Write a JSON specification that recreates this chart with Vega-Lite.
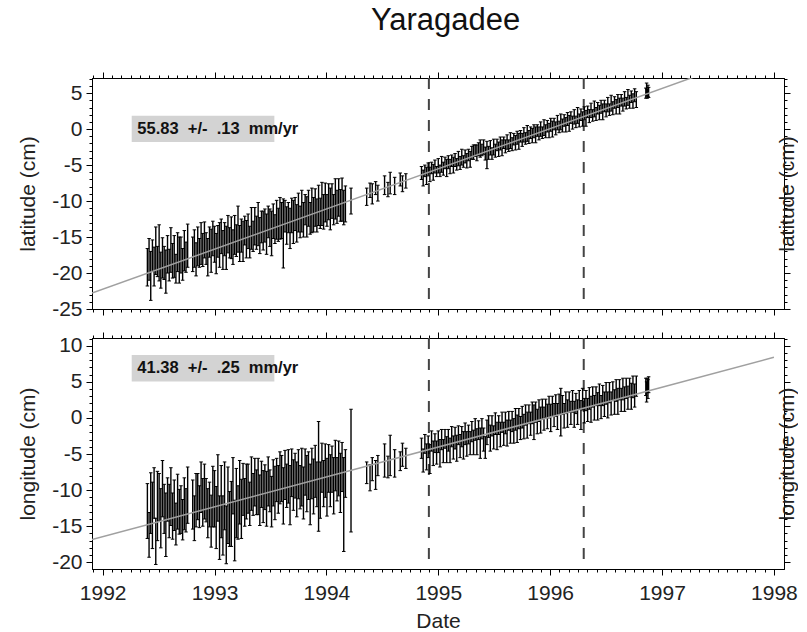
{
  "$schema": "https://vega.github.io/schema/vega-lite/v6.json",
  "padding": {"left": 17, "top": 5, "right": 0, "bottom": 0},
  "title": {"text": "Yaragadee", "fontSize": 31, "font": "Liberation Sans", "fontWeight": "normal", "color": "#111", "anchor": "middle", "offset": 32, "dx": 38, "dy": 2},
  "spacing": 29,
  "bounds": "flush",
  "datasets": {
    "vlines": [{"d": 1994.916}, {"d": 1996.30}],
    "fit": [{"t": 1991.905, "a": -22.8, "o": -16.85}, {"t": 1998.0, "a": 11.23, "o": 8.39}],
    "boxLat": [{"x1": 1992.26, "x2": 1993.535, "y1": -1.8, "y2": 1.85, "tx": 1992.31, "ty": 0.0, "label": "55.83\u00a0\u00a0+/-\u00a0\u00a0.13\u00a0\u00a0mm/yr"}],
    "boxLon": [{"x1": 1992.26, "x2": 1993.535, "y1": 5.06, "y2": 8.7, "tx": 1992.31, "ty": 6.85, "label": "41.38\u00a0\u00a0+/-\u00a0\u00a0.25\u00a0\u00a0mm/yr"}],
    "obs": [
      {"t":1992.4,"a":-19.2,"ae":2.6,"o":-12.9,"oe":3.8},
      {"t":1992.415,"a":-18.1,"ae":2.9,"o":-16.2,"oe":3.1},
      {"t":1992.43,"a":-20.4,"ae":3.4,"o":-11.8,"oe":4.2},
      {"t":1992.445,"a":-17.6,"ae":2.2,"o":-13.5,"oe":4.6},
      {"t":1992.46,"a":-19.1,"ae":2.7,"o":-10.4,"oe":3.5},
      {"t":1992.475,"a":-16.9,"ae":3.3,"o":-17.1,"oe":3.2},
      {"t":1992.49,"a":-18.4,"ae":2.1,"o":-12.2,"oe":4.8},
      {"t":1992.505,"a":-17.2,"ae":3.9,"o":-11.0,"oe":3.3},
      {"t":1992.52,"a":-19.6,"ae":2.5,"o":-13.9,"oe":4.1},
      {"t":1992.535,"a":-17.9,"ae":2.8,"o":-9.8,"oe":3.9},
      {"t":1992.55,"a":-18.6,"ae":2.3,"o":-12.6,"oe":3.4},
      {"t":1992.565,"a":-19.8,"ae":3.0,"o":-14.8,"oe":4.4},
      {"t":1992.58,"a":-17.4,"ae":2.6,"o":-11.3,"oe":3.0},
      {"t":1992.595,"a":-18.9,"ae":2.2,"o":-12.9,"oe":3.7},
      {"t":1992.61,"a":-16.8,"ae":3.1,"o":-10.9,"oe":4.0},
      {"t":1992.625,"a":-18.3,"ae":2.4,"o":-13.6,"oe":3.2},
      {"t":1992.64,"a":-17.7,"ae":2.9,"o":-12.1,"oe":3.5},
      {"t":1992.655,"a":-19.4,"ae":2.0,"o":-14.7,"oe":2.9},
      {"t":1992.67,"a":-17.1,"ae":2.7,"o":-11.6,"oe":3.8},
      {"t":1992.685,"a":-18.2,"ae":3.2,"o":-13.0,"oe":3.1},
      {"t":1992.7,"a":-17.5,"ae":2.5,"o":-12.7,"oe":3.3},
      {"t":1992.715,"a":-18.8,"ae":2.2,"o":-14.1,"oe":2.8},
      {"t":1992.73,"a":-16.9,"ae":2.8,"o":-11.9,"oe":3.6},
      {"t":1992.745,"a":-17.8,"ae":2.1,"o":-12.8,"oe":3.0},
      {"t":1992.76,"a":-16.2,"ae":3.0,"o":-10.7,"oe":3.9},
      {"t":1992.805,"a":-17.4,"ae":2.4,"o":-12.0,"oe":3.4},
      {"t":1992.82,"a":-16.6,"ae":2.6,"o":-13.9,"oe":3.1},
      {"t":1992.835,"a":-18.1,"ae":2.3,"o":-11.4,"oe":3.7},
      {"t":1992.85,"a":-16.3,"ae":2.7,"o":-10.9,"oe":3.2},
      {"t":1992.865,"a":-17.2,"ae":2.0,"o":-12.3,"oe":2.9},
      {"t":1992.88,"a":-15.9,"ae":2.9,"o":-9.6,"oe":3.5},
      {"t":1992.895,"a":-16.8,"ae":2.3,"o":-11.7,"oe":3.3},
      {"t":1992.91,"a":-15.4,"ae":2.5,"o":-10.2,"oe":3.8},
      {"t":1992.925,"a":-16.6,"ae":2.2,"o":-11.4,"oe":3.0},
      {"t":1992.94,"a":-17.8,"ae":2.6,"o":-13.2,"oe":3.4},
      {"t":1992.955,"a":-15.7,"ae":2.1,"o":-12.0,"oe":3.1},
      {"t":1992.97,"a":-16.9,"ae":3.0,"o":-14.3,"oe":3.6},
      {"t":1992.985,"a":-15.2,"ae":2.4,"o":-10.9,"oe":4.2},
      {"t":1993.0,"a":-16.0,"ae":2.5,"o":-11.2,"oe":3.9},
      {"t":1993.015,"a":-17.3,"ae":2.8,"o":-13.8,"oe":4.3},
      {"t":1993.03,"a":-15.6,"ae":2.2,"o":-9.7,"oe":4.6},
      {"t":1993.045,"a":-16.1,"ae":3.1,"o":-15.2,"oe":4.4},
      {"t":1993.06,"a":-14.9,"ae":2.4,"o":-11.6,"oe":5.0},
      {"t":1993.075,"a":-16.8,"ae":2.7,"o":-14.9,"oe":4.1},
      {"t":1993.09,"a":-15.3,"ae":2.3,"o":-10.8,"oe":4.7},
      {"t":1993.105,"a":-16.5,"ae":3.0,"o":-16.2,"oe":4.0},
      {"t":1993.12,"a":-14.6,"ae":2.6,"o":-12.1,"oe":5.3},
      {"t":1993.135,"a":-15.8,"ae":2.1,"o":-14.0,"oe":3.8},
      {"t":1993.15,"a":-15.1,"ae":2.9,"o":-13.3,"oe":4.5},
      {"t":1993.165,"a":-16.4,"ae":2.4,"o":-9.4,"oe":3.9},
      {"t":1993.18,"a":-14.7,"ae":2.7,"o":-15.6,"oe":4.2},
      {"t":1993.195,"a":-15.5,"ae":2.2,"o":-11.8,"oe":4.8},
      {"t":1993.21,"a":-13.9,"ae":3.2,"o":-13.1,"oe":3.7},
      {"t":1993.225,"a":-15.9,"ae":2.5,"o":-10.3,"oe":4.4},
      {"t":1993.24,"a":-14.8,"ae":2.3,"o":-12.6,"oe":4.1},
      {"t":1993.255,"a":-15.6,"ae":2.8,"o":-9.9,"oe":3.6},
      {"t":1993.27,"a":-14.1,"ae":2.0,"o":-11.7,"oe":3.3},
      {"t":1993.285,"a":-15.3,"ae":2.6,"o":-10.2,"oe":3.8},
      {"t":1993.3,"a":-14.2,"ae":2.4,"o":-9.8,"oe":3.4},
      {"t":1993.315,"a":-15.7,"ae":2.2,"o":-11.9,"oe":3.0},
      {"t":1993.33,"a":-13.8,"ae":2.9,"o":-9.1,"oe":3.7},
      {"t":1993.345,"a":-14.9,"ae":2.1,"o":-10.6,"oe":2.9},
      {"t":1993.36,"a":-13.5,"ae":2.6,"o":-8.9,"oe":3.3},
      {"t":1993.375,"a":-14.4,"ae":2.3,"o":-10.3,"oe":3.1},
      {"t":1993.39,"a":-13.2,"ae":3.0,"o":-9.5,"oe":3.9},
      {"t":1993.405,"a":-14.8,"ae":2.5,"o":-11.4,"oe":3.5},
      {"t":1993.42,"a":-13.6,"ae":2.2,"o":-9.2,"oe":3.2},
      {"t":1993.435,"a":-14.1,"ae":2.7,"o":-10.9,"oe":3.6},
      {"t":1993.45,"a":-13.4,"ae":2.3,"o":-9.6,"oe":3.1},
      {"t":1993.465,"a":-14.6,"ae":2.8,"o":-11.2,"oe":3.8},
      {"t":1993.48,"a":-12.9,"ae":2.2,"o":-8.8,"oe":3.4},
      {"t":1993.495,"a":-13.7,"ae":2.6,"o":-10.1,"oe":2.9},
      {"t":1993.51,"a":-14.5,"ae":3.1,"o":-11.6,"oe":3.5},
      {"t":1993.525,"a":-12.8,"ae":2.4,"o":-9.0,"oe":3.2},
      {"t":1993.54,"a":-13.9,"ae":2.0,"o":-10.4,"oe":3.7},
      {"t":1993.555,"a":-12.6,"ae":2.7,"o":-8.6,"oe":3.0},
      {"t":1993.57,"a":-13.3,"ae":2.3,"o":-9.9,"oe":3.3},
      {"t":1993.585,"a":-12.4,"ae":2.9,"o":-8.3,"oe":3.6},
      {"t":1993.6,"a":-12.7,"ae":2.5,"o":-8.4,"oe":3.2},
      {"t":1993.615,"a":-14.5,"ae":4.8,"o":-10.8,"oe":3.9},
      {"t":1993.63,"a":-12.1,"ae":2.2,"o":-7.9,"oe":3.4},
      {"t":1993.645,"a":-13.4,"ae":2.6,"o":-9.4,"oe":3.0},
      {"t":1993.66,"a":-12.3,"ae":2.1,"o":-8.1,"oe":3.7},
      {"t":1993.675,"a":-13.8,"ae":2.8,"o":-10.7,"oe":4.1},
      {"t":1993.69,"a":-12.0,"ae":2.4,"o":-7.6,"oe":3.3},
      {"t":1993.705,"a":-12.9,"ae":3.0,"o":-9.3,"oe":3.5},
      {"t":1993.72,"a":-11.8,"ae":2.3,"o":-8.0,"oe":3.1},
      {"t":1993.735,"a":-13.1,"ae":2.6,"o":-9.9,"oe":3.8},
      {"t":1993.75,"a":-11.6,"ae":2.7,"o":-7.8,"oe":3.4},
      {"t":1993.765,"a":-12.9,"ae":2.2,"o":-9.6,"oe":3.0},
      {"t":1993.78,"a":-11.4,"ae":2.9,"o":-8.2,"oe":4.0},
      {"t":1993.795,"a":-12.6,"ae":2.4,"o":-10.4,"oe":3.6},
      {"t":1993.81,"a":-11.2,"ae":2.1,"o":-7.5,"oe":3.2},
      {"t":1993.825,"a":-12.2,"ae":2.8,"o":-9.1,"oe":3.9},
      {"t":1993.84,"a":-11.0,"ae":2.5,"o":-8.0,"oe":3.3},
      {"t":1993.855,"a":-12.4,"ae":2.2,"o":-10.6,"oe":4.2},
      {"t":1993.87,"a":-11.3,"ae":3.1,"o":-7.7,"oe":3.5},
      {"t":1993.885,"a":-11.9,"ae":2.4,"o":-9.5,"oe":3.8},
      {"t":1993.9,"a":-10.9,"ae":2.6,"o":-7.4,"oe":3.6},
      {"t":1993.915,"a":-12.0,"ae":2.3,"o":-9.2,"oe":3.1},
      {"t":1993.93,"a":-10.6,"ae":2.8,"o":-8.1,"oe":7.6},
      {"t":1993.945,"a":-11.7,"ae":2.1,"o":-10.0,"oe":3.9},
      {"t":1993.96,"a":-10.4,"ae":3.0,"o":-6.9,"oe":3.4},
      {"t":1993.975,"a":-11.5,"ae":2.4,"o":-9.1,"oe":3.2},
      {"t":1993.99,"a":-10.2,"ae":2.7,"o":-7.3,"oe":3.7},
      {"t":1994.005,"a":-11.3,"ae":2.2,"o":-9.6,"oe":4.0},
      {"t":1994.02,"a":-10.1,"ae":2.5,"o":-7.0,"oe":3.3},
      {"t":1994.035,"a":-11.1,"ae":2.9,"o":-8.7,"oe":3.6},
      {"t":1994.05,"a":-10.0,"ae":2.4,"o":-7.1,"oe":3.2},
      {"t":1994.065,"a":-11.2,"ae":2.1,"o":-9.4,"oe":3.9},
      {"t":1994.08,"a":-9.7,"ae":2.8,"o":-6.6,"oe":3.5},
      {"t":1994.095,"a":-10.8,"ae":2.3,"o":-8.5,"oe":3.0},
      {"t":1994.11,"a":-9.5,"ae":2.6,"o":-7.0,"oe":3.8},
      {"t":1994.125,"a":-10.6,"ae":2.2,"o":-9.0,"oe":4.1},
      {"t":1994.14,"a":-9.8,"ae":3.0,"o":-6.8,"oe":3.4},
      {"t":1994.155,"a":-10.9,"ae":2.4,"o":-12.0,"oe":6.5},
      {"t":1994.17,"a":-10.4,"ae":2.5,"o":-7.7,"oe":3.3},
      {"t":1994.22,"a":-10.0,"ae":1.8,"o":-7.3,"oe":8.5},
      {"t":1994.36,"a":-9.4,"ae":1.2,"o":-7.6,"oe":1.5},
      {"t":1994.39,"a":-8.5,"ae":1.0,"o":-8.3,"oe":1.8},
      {"t":1994.41,"a":-9.0,"ae":1.4,"o":-7.1,"oe":1.6},
      {"t":1994.44,"a":-8.2,"ae":0.9,"o":-7.9,"oe":2.0},
      {"t":1994.46,"a":-8.9,"ae":1.1,"o":-6.6,"oe":1.4},
      {"t":1994.52,"a":-7.8,"ae":1.3,"o":-5.9,"oe":2.3},
      {"t":1994.55,"a":-8.4,"ae":1.0,"o":-6.8,"oe":1.5},
      {"t":1994.57,"a":-7.5,"ae":1.5,"o":-5.2,"oe":2.8},
      {"t":1994.61,"a":-7.9,"ae":1.2,"o":-6.3,"oe":1.9},
      {"t":1994.66,"a":-7.0,"ae":0.9,"o":-6.0,"oe":1.3},
      {"t":1994.68,"a":-7.6,"ae":1.1,"o":-5.1,"oe":1.6},
      {"t":1994.71,"a":-7.2,"ae":1.0,"o":-5.6,"oe":1.4},
      {"t":1994.85,"a":-6.1,"ae":0.9,"o":-4.2,"oe":1.4},
      {"t":1994.865,"a":-6.8,"ae":1.1,"o":-5.9,"oe":1.6},
      {"t":1994.88,"a":-5.8,"ae":0.8,"o":-3.6,"oe":1.3},
      {"t":1994.895,"a":-6.5,"ae":1.2,"o":-5.4,"oe":1.8},
      {"t":1994.91,"a":-5.6,"ae":0.9,"o":-4.0,"oe":1.5},
      {"t":1994.925,"a":-6.3,"ae":1.0,"o":-5.7,"oe":2.0},
      {"t":1994.94,"a":-5.4,"ae":0.8,"o":-3.2,"oe":1.4},
      {"t":1994.955,"a":-6.0,"ae":1.1,"o":-4.9,"oe":1.7},
      {"t":1994.97,"a":-5.2,"ae":0.9,"o":-3.5,"oe":1.3},
      {"t":1994.985,"a":-5.9,"ae":0.7,"o":-4.8,"oe":1.6},
      {"t":1995.0,"a":-5.1,"ae":1.0,"o":-3.3,"oe":1.5},
      {"t":1995.015,"a":-5.8,"ae":0.8,"o":-4.9,"oe":1.9},
      {"t":1995.03,"a":-4.9,"ae":1.1,"o":-3.0,"oe":1.4},
      {"t":1995.045,"a":-5.5,"ae":0.9,"o":-4.6,"oe":1.6},
      {"t":1995.06,"a":-4.7,"ae":0.8,"o":-2.9,"oe":1.3},
      {"t":1995.075,"a":-5.4,"ae":1.2,"o":-4.4,"oe":1.8},
      {"t":1995.09,"a":-4.6,"ae":0.9,"o":-3.1,"oe":1.5},
      {"t":1995.105,"a":-5.2,"ae":1.0,"o":-4.5,"oe":1.7},
      {"t":1995.12,"a":-4.4,"ae":0.8,"o":-2.6,"oe":1.4},
      {"t":1995.135,"a":-5.0,"ae":1.1,"o":-4.1,"oe":1.6},
      {"t":1995.15,"a":-4.3,"ae":0.9,"o":-2.8,"oe":1.5},
      {"t":1995.165,"a":-4.9,"ae":0.8,"o":-4.2,"oe":1.8},
      {"t":1995.18,"a":-4.1,"ae":1.0,"o":-2.4,"oe":1.3},
      {"t":1995.195,"a":-4.7,"ae":0.9,"o":-3.9,"oe":1.6},
      {"t":1995.21,"a":-3.9,"ae":1.1,"o":-2.6,"oe":1.4},
      {"t":1995.225,"a":-4.5,"ae":0.8,"o":-3.8,"oe":1.9},
      {"t":1995.24,"a":-3.8,"ae":0.9,"o":-2.2,"oe":1.5},
      {"t":1995.255,"a":-4.4,"ae":1.0,"o":-3.6,"oe":1.7},
      {"t":1995.27,"a":-3.6,"ae":0.8,"o":-2.3,"oe":1.3},
      {"t":1995.285,"a":-4.2,"ae":1.1,"o":-3.5,"oe":1.6},
      {"t":1995.3,"a":-3.3,"ae":0.9,"o":-1.9,"oe":1.4},
      {"t":1995.315,"a":-3.2,"ae":1.0,"o":-3.4,"oe":1.7},
      {"t":1995.33,"a":-3.0,"ae":0.8,"o":-1.6,"oe":1.5},
      {"t":1995.345,"a":-3.3,"ae":1.1,"o":-3.3,"oe":1.8},
      {"t":1995.36,"a":-2.8,"ae":0.9,"o":-1.7,"oe":1.3},
      {"t":1995.375,"a":-2.7,"ae":1.2,"o":-3.5,"oe":2.1},
      {"t":1995.39,"a":-2.9,"ae":0.8,"o":-1.5,"oe":1.4},
      {"t":1995.405,"a":-2.5,"ae":1.0,"o":-3.0,"oe":1.6},
      {"t":1995.42,"a":-3.4,"ae":0.9,"o":-4.1,"oe":1.5},
      {"t":1995.435,"a":-3.6,"ae":1.9,"o":-2.0,"oe":1.7},
      {"t":1995.45,"a":-3.3,"ae":0.9,"o":-1.2,"oe":1.5},
      {"t":1995.465,"a":-2.6,"ae":1.0,"o":-2.8,"oe":1.8},
      {"t":1995.48,"a":-3.4,"ae":0.8,"o":-1.1,"oe":1.4},
      {"t":1995.495,"a":-2.5,"ae":1.1,"o":-2.7,"oe":1.6},
      {"t":1995.51,"a":-3.0,"ae":0.9,"o":-0.8,"oe":1.5},
      {"t":1995.525,"a":-2.2,"ae":0.8,"o":-2.5,"oe":1.9},
      {"t":1995.54,"a":-2.8,"ae":1.0,"o":-1.0,"oe":1.3},
      {"t":1995.555,"a":-2.0,"ae":0.9,"o":-2.3,"oe":1.7},
      {"t":1995.57,"a":-2.6,"ae":1.1,"o":-0.6,"oe":1.4},
      {"t":1995.585,"a":-1.9,"ae":0.8,"o":-2.2,"oe":1.6},
      {"t":1995.6,"a":-2.4,"ae":0.9,"o":-0.7,"oe":1.5},
      {"t":1995.615,"a":-1.8,"ae":1.0,"o":-2.1,"oe":1.8},
      {"t":1995.63,"a":-2.3,"ae":0.8,"o":-0.4,"oe":1.3},
      {"t":1995.645,"a":-1.6,"ae":1.1,"o":-1.9,"oe":1.6},
      {"t":1995.66,"a":-2.1,"ae":0.9,"o":-0.5,"oe":1.4},
      {"t":1995.675,"a":-1.4,"ae":0.8,"o":-1.8,"oe":1.7},
      {"t":1995.69,"a":-1.9,"ae":1.0,"o":-0.2,"oe":1.5},
      {"t":1995.705,"a":-1.2,"ae":0.9,"o":-1.5,"oe":1.9},
      {"t":1995.72,"a":-1.7,"ae":1.1,"o":-0.1,"oe":1.4},
      {"t":1995.735,"a":-1.0,"ae":0.8,"o":-1.4,"oe":1.6},
      {"t":1995.75,"a":-1.5,"ae":0.9,"o":0.1,"oe":1.5},
      {"t":1995.765,"a":-0.8,"ae":1.0,"o":-1.2,"oe":1.7},
      {"t":1995.78,"a":-1.3,"ae":0.8,"o":0.4,"oe":1.4},
      {"t":1995.795,"a":-0.6,"ae":1.1,"o":-1.0,"oe":1.8},
      {"t":1995.81,"a":-1.1,"ae":0.9,"o":0.5,"oe":1.3},
      {"t":1995.825,"a":-0.5,"ae":0.8,"o":-0.8,"oe":1.6},
      {"t":1995.84,"a":-0.9,"ae":1.0,"o":0.7,"oe":1.5},
      {"t":1995.855,"a":-0.3,"ae":0.9,"o":-0.6,"oe":2.4},
      {"t":1995.87,"a":-0.8,"ae":1.1,"o":0.8,"oe":1.4},
      {"t":1995.885,"a":-0.2,"ae":0.8,"o":-0.5,"oe":1.7},
      {"t":1995.9,"a":-0.6,"ae":0.9,"o":1.0,"oe":1.5},
      {"t":1995.915,"a":0.0,"ae":1.0,"o":-0.3,"oe":1.8},
      {"t":1995.93,"a":-0.5,"ae":0.8,"o":1.2,"oe":1.4},
      {"t":1995.945,"a":0.2,"ae":1.1,"o":-0.1,"oe":1.6},
      {"t":1995.96,"a":-0.3,"ae":0.9,"o":1.3,"oe":1.3},
      {"t":1995.975,"a":0.4,"ae":0.8,"o":0.2,"oe":1.7},
      {"t":1995.99,"a":-0.2,"ae":1.0,"o":1.5,"oe":1.5},
      {"t":1996.005,"a":0.6,"ae":0.9,"o":0.0,"oe":1.9},
      {"t":1996.02,"a":0.0,"ae":1.1,"o":1.6,"oe":1.4},
      {"t":1996.035,"a":0.7,"ae":0.8,"o":0.4,"oe":1.6},
      {"t":1996.05,"a":0.1,"ae":0.9,"o":1.7,"oe":1.5},
      {"t":1996.065,"a":0.9,"ae":1.0,"o":0.2,"oe":1.8},
      {"t":1996.08,"a":0.3,"ae":0.8,"o":1.9,"oe":1.4},
      {"t":1996.095,"a":1.0,"ae":1.1,"o":0.8,"oe":3.3},
      {"t":1996.11,"a":0.5,"ae":0.9,"o":1.8,"oe":1.3},
      {"t":1996.125,"a":1.2,"ae":0.8,"o":0.3,"oe":1.7},
      {"t":1996.14,"a":0.6,"ae":1.0,"o":2.1,"oe":1.5},
      {"t":1996.155,"a":1.4,"ae":0.9,"o":0.6,"oe":1.9},
      {"t":1996.17,"a":0.8,"ae":1.1,"o":2.2,"oe":1.4},
      {"t":1996.185,"a":1.6,"ae":0.8,"o":0.7,"oe":1.6},
      {"t":1996.2,"a":0.9,"ae":0.9,"o":2.3,"oe":1.5},
      {"t":1996.215,"a":1.7,"ae":1.0,"o":0.5,"oe":1.8},
      {"t":1996.23,"a":1.0,"ae":0.8,"o":2.0,"oe":1.4},
      {"t":1996.245,"a":1.9,"ae":1.1,"o":0.8,"oe":1.7},
      {"t":1996.26,"a":1.2,"ae":0.9,"o":2.5,"oe":1.3},
      {"t":1996.275,"a":2.0,"ae":0.8,"o":0.4,"oe":2.0},
      {"t":1996.29,"a":1.4,"ae":1.0,"o":2.6,"oe":1.5},
      {"t":1996.305,"a":2.2,"ae":0.9,"o":1.0,"oe":1.7},
      {"t":1996.32,"a":1.5,"ae":1.1,"o":2.4,"oe":1.4},
      {"t":1996.335,"a":2.4,"ae":0.8,"o":1.1,"oe":1.6},
      {"t":1996.35,"a":1.8,"ae":0.9,"o":2.7,"oe":1.5},
      {"t":1996.365,"a":2.6,"ae":1.0,"o":1.2,"oe":1.8},
      {"t":1996.38,"a":1.9,"ae":0.8,"o":2.9,"oe":1.4},
      {"t":1996.395,"a":2.8,"ae":1.1,"o":1.4,"oe":1.7},
      {"t":1996.41,"a":2.1,"ae":0.9,"o":3.0,"oe":1.3},
      {"t":1996.425,"a":2.9,"ae":0.8,"o":1.6,"oe":1.9},
      {"t":1996.44,"a":2.3,"ae":1.0,"o":3.2,"oe":1.5},
      {"t":1996.455,"a":3.1,"ae":0.9,"o":1.5,"oe":1.6},
      {"t":1996.47,"a":2.4,"ae":1.1,"o":3.1,"oe":1.4},
      {"t":1996.485,"a":3.2,"ae":0.8,"o":1.9,"oe":1.7},
      {"t":1996.5,"a":2.6,"ae":0.9,"o":3.4,"oe":1.5},
      {"t":1996.515,"a":3.4,"ae":1.0,"o":1.8,"oe":1.8},
      {"t":1996.53,"a":2.7,"ae":0.8,"o":3.5,"oe":1.4},
      {"t":1996.545,"a":3.6,"ae":1.1,"o":2.0,"oe":1.6},
      {"t":1996.56,"a":2.9,"ae":0.9,"o":3.7,"oe":1.3},
      {"t":1996.575,"a":3.7,"ae":0.8,"o":2.2,"oe":1.7},
      {"t":1996.59,"a":3.1,"ae":1.0,"o":3.8,"oe":1.5},
      {"t":1996.605,"a":3.9,"ae":0.9,"o":2.3,"oe":1.8},
      {"t":1996.62,"a":3.2,"ae":1.1,"o":3.9,"oe":1.4},
      {"t":1996.635,"a":4.0,"ae":0.8,"o":2.5,"oe":1.6},
      {"t":1996.65,"a":3.4,"ae":0.9,"o":4.0,"oe":1.5},
      {"t":1996.665,"a":4.2,"ae":1.0,"o":2.6,"oe":1.7},
      {"t":1996.68,"a":3.6,"ae":0.8,"o":4.1,"oe":1.4},
      {"t":1996.695,"a":4.4,"ae":1.1,"o":2.8,"oe":1.6},
      {"t":1996.71,"a":3.8,"ae":0.9,"o":4.2,"oe":1.3},
      {"t":1996.725,"a":4.5,"ae":0.8,"o":3.0,"oe":1.8},
      {"t":1996.74,"a":3.9,"ae":1.0,"o":4.3,"oe":1.5},
      {"t":1996.755,"a":4.7,"ae":0.9,"o":3.1,"oe":1.6},
      {"t":1996.77,"a":4.1,"ae":1.1,"o":4.4,"oe":1.4},
      {"t":1996.855,"a":5.0,"ae":0.7,"o":4.3,"oe":1.2},
      {"t":1996.862,"a":5.5,"ae":0.9,"o":3.6,"oe":1.4},
      {"t":1996.868,"a":4.9,"ae":0.6,"o":4.5,"oe":1.0},
      {"t":1996.874,"a":5.3,"ae":0.8,"o":4.0,"oe":1.3},
      {"t":1996.88,"a":5.1,"ae":0.7,"o":4.6,"oe":1.1}
    ]
  },
  "config": {
    "font": "Liberation Sans",
    "view": {"stroke": "#000", "strokeWidth": 1},
    "axis": {"grid": false, "domainColor": "#000", "tickColor": "#000", "tickWidth": 1, "labelFontSize": 21, "titleFontSize": 21, "labelColor": "#222", "titleColor": "#222", "titleFontWeight": "normal", "labelFont": "Liberation Sans", "titleFont": "Liberation Sans", "labelOverlap": false, "labelFlush": false}
  },
  "vconcat": [
    {
      "width": 692,
      "height": 231,
      "resolve": {"axis": {"x": "independent", "y": "independent"}},
      "layer": [
        {
          "data": {"name": "boxLat"},
          "mark": {"type": "rect", "color": "#d3d3d3"},
          "encoding": {
            "x": {"field": "x1", "type": "quantitative", "scale": {"domain": [1991.905, 1998.09], "nice": false, "zero": false}, "axis": null},
            "x2": {"field": "x2"},
            "y": {"field": "y1", "type": "quantitative", "scale": {"domain": [-25, 7.1], "nice": false, "zero": false}, "axis": null},
            "y2": {"field": "y2"}
          }
        },
        {
          "data": {"name": "vlines"},
          "mark": {"type": "rule", "strokeDash": [11, 10], "strokeWidth": 2, "color": "#444"},
          "encoding": {
            "x": {"field": "d", "type": "quantitative", "scale": {"domain": [1991.905, 1998.09], "nice": false, "zero": false}, "axis": null}
          }
        },
        {
          "data": {"name": "obs"},
          "mark": {"type": "errorbar", "color": "#000", "opacity": 1, "ticks": {"size": 3.5}, "rule": {"strokeWidth": 1.4}},
          "encoding": {
            "x": {"field": "t", "type": "quantitative", "scale": {"domain": [1991.905, 1998.09], "nice": false, "zero": false},
              "axis": {"orient": "bottom", "title": null, "labels": false,
                "values": [1991.9167,1992,1992.0833,1992.1667,1992.25,1992.3333,1992.4167,1992.5,1992.5833,1992.6667,1992.75,1992.8333,1992.9167,1993,1993.0833,1993.1667,1993.25,1993.3333,1993.4167,1993.5,1993.5833,1993.6667,1993.75,1993.8333,1993.9167,1994,1994.0833,1994.1667,1994.25,1994.3333,1994.4167,1994.5,1994.5833,1994.6667,1994.75,1994.8333,1994.9167,1995,1995.0833,1995.1667,1995.25,1995.3333,1995.4167,1995.5,1995.5833,1995.6667,1995.75,1995.8333,1995.9167,1996,1996.0833,1996.1667,1996.25,1996.3333,1996.4167,1996.5,1996.5833,1996.6667,1996.75,1996.8333,1996.9167,1997,1997.0833,1997.1667,1997.25,1997.3333,1997.4167,1997.5,1997.5833,1997.6667,1997.75,1997.8333,1997.9167,1998],
                "tickSize": {"condition": {"test": "abs(datum.value - round(datum.value)) > 0.01", "value": 3}, "value": 6}}},
            "y": {"field": "a", "type": "quantitative", "scale": {"domain": [-25, 7.1], "nice": false, "zero": false},
              "axis": {"orient": "left", "title": "latitude (cm)", "titlePadding": 13, "labelPadding": 4,
                "values": [-25,-24,-23,-22,-21,-20,-19,-18,-17,-16,-15,-14,-13,-12,-11,-10,-9,-8,-7,-6,-5,-4,-3,-2,-1,0,1,2,3,4,5,6,7],
                "labelExpr": "datum.value % 5 === 0 ? '' + datum.value : ''",
                "tickSize": {"condition": {"test": "datum.value % 5 !== 0", "value": 3}, "value": 6}}},
            "yError": {"field": "ae"}
          }
        },
        {
          "data": {"name": "fit"},
          "mark": {"type": "line", "color": "#a0a0a0", "strokeWidth": 1.5, "clip": true},
          "encoding": {
            "x": {"field": "t", "type": "quantitative", "scale": {"domain": [1991.905, 1998.09], "nice": false, "zero": false},
              "axis": {"orient": "top", "title": null, "labels": false,
                "values": [1991.9167,1992,1992.0833,1992.1667,1992.25,1992.3333,1992.4167,1992.5,1992.5833,1992.6667,1992.75,1992.8333,1992.9167,1993,1993.0833,1993.1667,1993.25,1993.3333,1993.4167,1993.5,1993.5833,1993.6667,1993.75,1993.8333,1993.9167,1994,1994.0833,1994.1667,1994.25,1994.3333,1994.4167,1994.5,1994.5833,1994.6667,1994.75,1994.8333,1994.9167,1995,1995.0833,1995.1667,1995.25,1995.3333,1995.4167,1995.5,1995.5833,1995.6667,1995.75,1995.8333,1995.9167,1996,1996.0833,1996.1667,1996.25,1996.3333,1996.4167,1996.5,1996.5833,1996.6667,1996.75,1996.8333,1996.9167,1997,1997.0833,1997.1667,1997.25,1997.3333,1997.4167,1997.5,1997.5833,1997.6667,1997.75,1997.8333,1997.9167,1998],
                "tickSize": {"condition": {"test": "abs(datum.value - round(datum.value)) > 0.01", "value": 3}, "value": 6}}},
            "y": {"field": "a", "type": "quantitative", "scale": {"domain": [-25, 7.1], "nice": false, "zero": false},
              "axis": {"orient": "right", "title": "latitude (cm)", "labels": false, "titleAngle": 270, "titleBaseline": "alphabetic", "titleAlign": "center", "titlePadding": 3,
                "values": [-25,-24,-23,-22,-21,-20,-19,-18,-17,-16,-15,-14,-13,-12,-11,-10,-9,-8,-7,-6,-5,-4,-3,-2,-1,0,1,2,3,4,5,6,7],
                "tickSize": {"condition": {"test": "datum.value % 5 !== 0", "value": 3}, "value": 6}}}
          }
        },
        {
          "data": {"name": "boxLat"},
          "mark": {"type": "text", "align": "left", "baseline": "middle", "fontSize": 16.5, "fontWeight": "bold", "color": "#111"},
          "encoding": {
            "x": {"field": "tx", "type": "quantitative", "scale": {"domain": [1991.905, 1998.09], "nice": false, "zero": false}, "axis": null},
            "y": {"field": "ty", "type": "quantitative", "scale": {"domain": [-25, 7.1], "nice": false, "zero": false}, "axis": null},
            "text": {"field": "label"}
          }
        }
      ]
    },
    {
      "width": 692,
      "height": 231,
      "resolve": {"axis": {"x": "independent", "y": "independent"}},
      "layer": [
        {
          "data": {"name": "boxLon"},
          "mark": {"type": "rect", "color": "#d3d3d3"},
          "encoding": {
            "x": {"field": "x1", "type": "quantitative", "scale": {"domain": [1991.905, 1998.09], "nice": false, "zero": false}, "axis": null},
            "x2": {"field": "x2"},
            "y": {"field": "y1", "type": "quantitative", "scale": {"domain": [-20.93, 11.07], "nice": false, "zero": false}, "axis": null},
            "y2": {"field": "y2"}
          }
        },
        {
          "data": {"name": "vlines"},
          "mark": {"type": "rule", "strokeDash": [11, 10], "strokeWidth": 2, "color": "#444"},
          "encoding": {
            "x": {"field": "d", "type": "quantitative", "scale": {"domain": [1991.905, 1998.09], "nice": false, "zero": false}, "axis": null}
          }
        },
        {
          "data": {"name": "obs"},
          "mark": {"type": "errorbar", "color": "#000", "opacity": 1, "ticks": {"size": 3.5}, "rule": {"strokeWidth": 1.4}},
          "encoding": {
            "x": {"field": "t", "type": "quantitative", "scale": {"domain": [1991.905, 1998.09], "nice": false, "zero": false},
              "axis": {"orient": "bottom", "title": "Date", "titlePadding": 7, "labelPadding": 7,
                "labelExpr": "abs(datum.value - round(datum.value)) < 0.01 ? '' + round(datum.value) : ''",
                "values": [1991.9167,1992,1992.0833,1992.1667,1992.25,1992.3333,1992.4167,1992.5,1992.5833,1992.6667,1992.75,1992.8333,1992.9167,1993,1993.0833,1993.1667,1993.25,1993.3333,1993.4167,1993.5,1993.5833,1993.6667,1993.75,1993.8333,1993.9167,1994,1994.0833,1994.1667,1994.25,1994.3333,1994.4167,1994.5,1994.5833,1994.6667,1994.75,1994.8333,1994.9167,1995,1995.0833,1995.1667,1995.25,1995.3333,1995.4167,1995.5,1995.5833,1995.6667,1995.75,1995.8333,1995.9167,1996,1996.0833,1996.1667,1996.25,1996.3333,1996.4167,1996.5,1996.5833,1996.6667,1996.75,1996.8333,1996.9167,1997,1997.0833,1997.1667,1997.25,1997.3333,1997.4167,1997.5,1997.5833,1997.6667,1997.75,1997.8333,1997.9167,1998],
                "tickSize": {"condition": {"test": "abs(datum.value - round(datum.value)) > 0.01", "value": 3}, "value": 6}}},
            "y": {"field": "o", "type": "quantitative", "scale": {"domain": [-20.93, 11.07], "nice": false, "zero": false},
              "axis": {"orient": "left", "title": "longitude (cm)", "titlePadding": 13, "labelPadding": 4,
                "values": [-20,-19,-18,-17,-16,-15,-14,-13,-12,-11,-10,-9,-8,-7,-6,-5,-4,-3,-2,-1,0,1,2,3,4,5,6,7,8,9,10,11],
                "labelExpr": "datum.value % 5 === 0 ? '' + datum.value : ''",
                "tickSize": {"condition": {"test": "datum.value % 5 !== 0", "value": 3}, "value": 6}}},
            "yError": {"field": "oe"}
          }
        },
        {
          "data": {"name": "fit"},
          "mark": {"type": "line", "color": "#a0a0a0", "strokeWidth": 1.5, "clip": true},
          "encoding": {
            "x": {"field": "t", "type": "quantitative", "scale": {"domain": [1991.905, 1998.09], "nice": false, "zero": false},
              "axis": {"orient": "top", "title": null, "labels": false,
                "values": [1991.9167,1992,1992.0833,1992.1667,1992.25,1992.3333,1992.4167,1992.5,1992.5833,1992.6667,1992.75,1992.8333,1992.9167,1993,1993.0833,1993.1667,1993.25,1993.3333,1993.4167,1993.5,1993.5833,1993.6667,1993.75,1993.8333,1993.9167,1994,1994.0833,1994.1667,1994.25,1994.3333,1994.4167,1994.5,1994.5833,1994.6667,1994.75,1994.8333,1994.9167,1995,1995.0833,1995.1667,1995.25,1995.3333,1995.4167,1995.5,1995.5833,1995.6667,1995.75,1995.8333,1995.9167,1996,1996.0833,1996.1667,1996.25,1996.3333,1996.4167,1996.5,1996.5833,1996.6667,1996.75,1996.8333,1996.9167,1997,1997.0833,1997.1667,1997.25,1997.3333,1997.4167,1997.5,1997.5833,1997.6667,1997.75,1997.8333,1997.9167,1998],
                "tickSize": {"condition": {"test": "abs(datum.value - round(datum.value)) > 0.01", "value": 3}, "value": 6}}},
            "y": {"field": "o", "type": "quantitative", "scale": {"domain": [-20.93, 11.07], "nice": false, "zero": false},
              "axis": {"orient": "right", "title": "longitude (cm)", "labels": false, "titleAngle": 270, "titleBaseline": "alphabetic", "titleAlign": "center", "titlePadding": 3,
                "values": [-20,-19,-18,-17,-16,-15,-14,-13,-12,-11,-10,-9,-8,-7,-6,-5,-4,-3,-2,-1,0,1,2,3,4,5,6,7,8,9,10,11],
                "tickSize": {"condition": {"test": "datum.value % 5 !== 0", "value": 3}, "value": 6}}}
          }
        },
        {
          "data": {"name": "boxLon"},
          "mark": {"type": "text", "align": "left", "baseline": "middle", "fontSize": 16.5, "fontWeight": "bold", "color": "#111"},
          "encoding": {
            "x": {"field": "tx", "type": "quantitative", "scale": {"domain": [1991.905, 1998.09], "nice": false, "zero": false}, "axis": null},
            "y": {"field": "ty", "type": "quantitative", "scale": {"domain": [-20.93, 11.07], "nice": false, "zero": false}, "axis": null},
            "text": {"field": "label"}
          }
        }
      ]
    }
  ]
}
